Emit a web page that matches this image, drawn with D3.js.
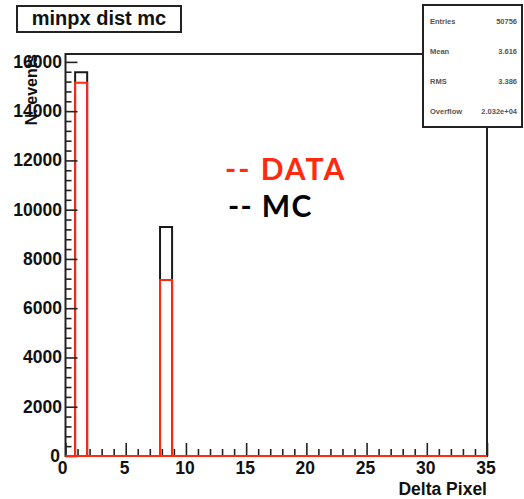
<!DOCTYPE html>
<html><head><meta charset="utf-8">
<script src="https://cdn.jsdelivr.net/npm/d3@7"></script>
<style>html,body{margin:0;padding:0;background:#fff;}svg{display:block;}</style>
</head><body>
<svg id="c" width="524" height="499"></svg>
<script>
// ---- data ----
const binLo = [0.8, 7.85];
const binHi = [1.8, 8.85];
const mcValues = [15580, 9300];
const dataValues = [15150, 7150];
const xTicks = [0, 5, 10, 15, 20, 25, 30, 35];
const yTicks = [0, 2000, 4000, 6000, 8000, 10000, 12000, 14000, 16000];
const statLabels = ["Entries", "Mean", "RMS", "Overflow"];
const statValues = ["50756", "3.616", "3.386", "2.032e+04"];
const titleText = "minpx dist mc";
const xTitle = "Delta Pixel";
const yTitle = "N. events";

const svg = d3.select("#c");
const x = d3.scaleLinear().domain([0, 35]).range([65.5, 487]);
const y = d3.scaleLinear().domain([0, 16320]).range([456, 54]);
const RED = "#ff2a10";
const BOLD = "'Liberation Sans', Arial, sans-serif";

// y title (drawn first, labels overlap it)
svg.append("text")
  .attr("transform", `translate(37,54) rotate(-90)`)
  .attr("text-anchor", "end")
  .attr("font-family", BOLD).attr("font-weight", "bold").attr("font-size", 16)
  .attr("fill", "#111").text(yTitle);

// frame
svg.append("rect").attr("x", x(0)).attr("y", y(16320))
  .attr("width", x(35) - x(0)).attr("height", y(0) - y(16320))
  .attr("fill", "none").attr("stroke", "#222").attr("stroke-width", 2);

// step path builder
function stepPath(vals) {
  const pts = [[0, 0]];
  binLo.forEach((lo, i) => {
    pts.push([lo, 0], [lo, vals[i]], [binHi[i], vals[i]], [binHi[i], 0]);
  });
  pts.push([35, 0]);
  return d3.line().x(d => x(d[0])).y(d => y(d[1]))(pts);
}
svg.append("path").attr("d", stepPath(mcValues))
  .attr("fill", "none").attr("stroke", "#1a1a1a").attr("stroke-width", 2);
svg.append("path").attr("d", stepPath(dataValues))
  .attr("fill", "none").attr("stroke", RED).attr("stroke-width", 2);

// y axis
const yAxis = d3.axisRight(y).tickValues(yTicks).tickSize(12).tickFormat("");
const gy = svg.append("g").attr("transform", `translate(${x(0)},0)`).call(yAxis);
gy.select(".domain").remove();
gy.selectAll("line").attr("stroke", "#222").attr("stroke-width", 1.6);
const yMinor = d3.range(0, 16320, 400).filter(v => v % 2000 !== 0);
const gym = svg.append("g").attr("transform", `translate(${x(0)},0)`)
  .call(d3.axisRight(y).tickValues(yMinor).tickSize(6).tickFormat(""));
gym.select(".domain").remove();
gym.selectAll("line").attr("stroke", "#222").attr("stroke-width", 1.6);

svg.append("g").selectAll("text").data(yTicks).join("text")
  .attr("x", d => d === 0 ? 60 : 62).attr("y", d => y(d) + 6)
  .attr("text-anchor", "end")
  .attr("font-family", BOLD).attr("font-weight", "bold").attr("font-size", 17.5)
  .attr("fill", "#111").text(d => d);

// x axis
const gx = svg.append("g").attr("transform", `translate(0,${y(0)})`)
  .call(d3.axisTop(x).tickValues(xTicks).tickSize(13).tickFormat(""));
gx.select(".domain").remove();
gx.selectAll("line").attr("stroke", "#222").attr("stroke-width", 1.6);
const xMinor = d3.range(1, 35).filter(v => v % 5 !== 0);
const gxm = svg.append("g").attr("transform", `translate(0,${y(0)})`)
  .call(d3.axisTop(x).tickValues(xMinor).tickSize(7).tickFormat(""));
gxm.select(".domain").remove();
gxm.selectAll("line").attr("stroke", "#222").attr("stroke-width", 1.6);
// red baseline on top
svg.append("line").attr("x1", x(0)).attr("x2", x(35)).attr("y1", y(0)).attr("y2", y(0))
  .attr("stroke", RED).attr("stroke-width", 2);

svg.append("g").selectAll("text").data(xTicks).join("text")
  .attr("x", d => x(d) - (d === 0 ? 3 : 1)).attr("y", 474)
  .attr("text-anchor", "middle")
  .attr("font-family", BOLD).attr("font-weight", "bold").attr("font-size", 17.5)
  .attr("fill", "#111").text(d => d);

svg.append("text").attr("x", 487).attr("y", 495).attr("text-anchor", "end")
  .attr("font-family", BOLD).attr("font-weight", "bold").attr("font-size", 17.5)
  .attr("fill", "#111").text(xTitle);

// title box
svg.append("rect").attr("x", 17).attr("y", 6).attr("width", 164).attr("height", 26)
  .attr("fill", "#fff").attr("stroke", "#222").attr("stroke-width", 2);
svg.append("text").attr("x", 99).attr("y", 25).attr("text-anchor", "middle")
  .attr("font-family", BOLD).attr("font-weight", "bold").attr("font-size", 20)
  .attr("fill", "#111").text(titleText);

// stats box
svg.append("rect").attr("x", 423).attr("y", 5).attr("width", 99).attr("height", 122)
  .attr("fill", "#fff").attr("stroke", "#222").attr("stroke-width", 2);
const sg = svg.append("g");
sg.selectAll("text.l").data(statLabels).join("text").attr("class", "l")
  .attr("x", 430).attr("y", (d, i) => 24 + i * 30)
  .attr("font-family", BOLD).attr("font-weight", "bold").attr("font-size", 7.5)
  .attr("fill", "#555").text(d => d);
sg.selectAll("text.v").data(statValues).join("text").attr("class", "v")
  .attr("x", 517).attr("y", (d, i) => 24 + i * 30).attr("text-anchor", "end")
  .attr("font-family", BOLD).attr("font-weight", "bold").attr("font-size", 7.5)
  .attr("fill", "#555").text(d => d);

// legend annotation
svg.append("text").attr("x", 225).attr("y", 180)
  .attr("font-family", "Lato, 'Open Sans', sans-serif").attr("font-weight", "bold").attr("font-size", 30)
  .attr("letter-spacing", 2)
  .attr("fill", RED).text("-- DATA");
svg.append("text").attr("x", 228).attr("y", 217)
  .attr("font-family", "Lato, 'Open Sans', sans-serif").attr("font-weight", "bold").attr("font-size", 30)
  .attr("letter-spacing", 1.4)
  .attr("fill", "#000").text("-- MC");
</script>
</body></html>
